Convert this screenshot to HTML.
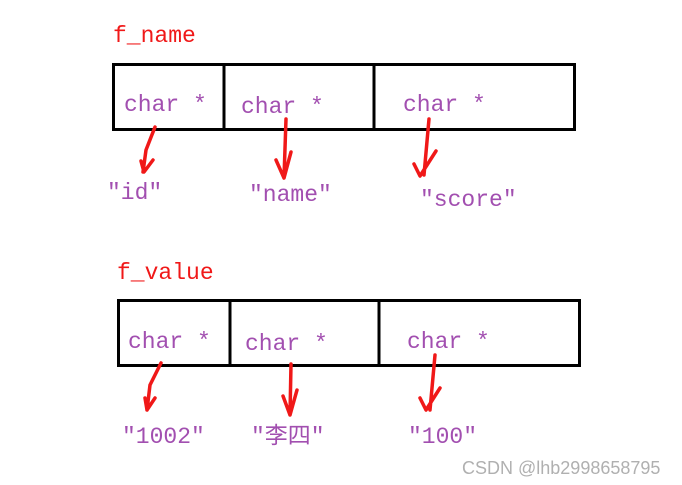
<!DOCTYPE html>
<html><head><meta charset="utf-8"><style>
html,body{margin:0;padding:0;background:#fff;}
svg{display:block;}
.p{fill:#a24fb0;font-family:"Liberation Mono","Noto Sans CJK SC",monospace;font-size:23px;}
.r{fill:#f01818;font-family:"Liberation Mono",monospace;font-size:23px;}
.a{stroke:#f01818;stroke-width:3.5;fill:none;stroke-linecap:round;stroke-linejoin:round;}
</style></head><body>
<svg width="682" height="485" viewBox="0 0 682 485">
<text class="r" x="113" y="42">f_name</text>
<rect x="113.5" y="64.5" width="461" height="65" fill="none" stroke="#000" stroke-width="3"/>
<line x1="224" y1="64" x2="224" y2="130" stroke="#000" stroke-width="3"/>
<line x1="374" y1="64" x2="374" y2="131" stroke="#000" stroke-width="3"/>
<text class="p" x="124" y="111">char *</text>
<text class="p" x="241" y="113">char *</text>
<text class="p" x="403" y="111">char *</text>
<path class="a" d="M155 127 L146 150 L143 172 M141 161 L144 172 L153 160"/>
<path class="a" d="M286 119 L284 178 M276 160 L284 178 L291 152"/>
<path class="a" d="M429 119 L424 175 M414 164 L420 176 L436 151"/>
<text class="p" x="107" y="199">"id"</text>
<text class="p" x="249" y="201">"name"</text>
<text class="p" x="420" y="206">"score"</text>

<text class="r" x="117" y="279">f_value</text>
<rect x="118.5" y="300.5" width="461" height="65" fill="none" stroke="#000" stroke-width="3"/>
<line x1="230" y1="300" x2="230" y2="366" stroke="#000" stroke-width="3"/>
<line x1="379" y1="300" x2="379" y2="367" stroke="#000" stroke-width="3"/>
<text class="p" x="128" y="348">char *</text>
<text class="p" x="245" y="350">char *</text>
<text class="p" x="407" y="348">char *</text>
<path class="a" d="M161 363 L150 385 L147 410 M145 398 L147 410 L155 398"/>
<path class="a" d="M291 364 L290 415 M283 396 L290 415 L297 390"/>
<path class="a" d="M435 355 L430 410 M420 398 L426 410 L440 388"/>
<text class="p" x="122" y="443">"1002"</text>
<text class="p" x="251" y="443">"李四"</text>
<text class="p" x="408" y="443">"100"</text>
<text x="462" y="474" style="fill:#b0b0b0;font-family:'Liberation Sans',sans-serif;font-size:18px;">CSDN @lhb2998658795</text>
</svg>
</body></html>
